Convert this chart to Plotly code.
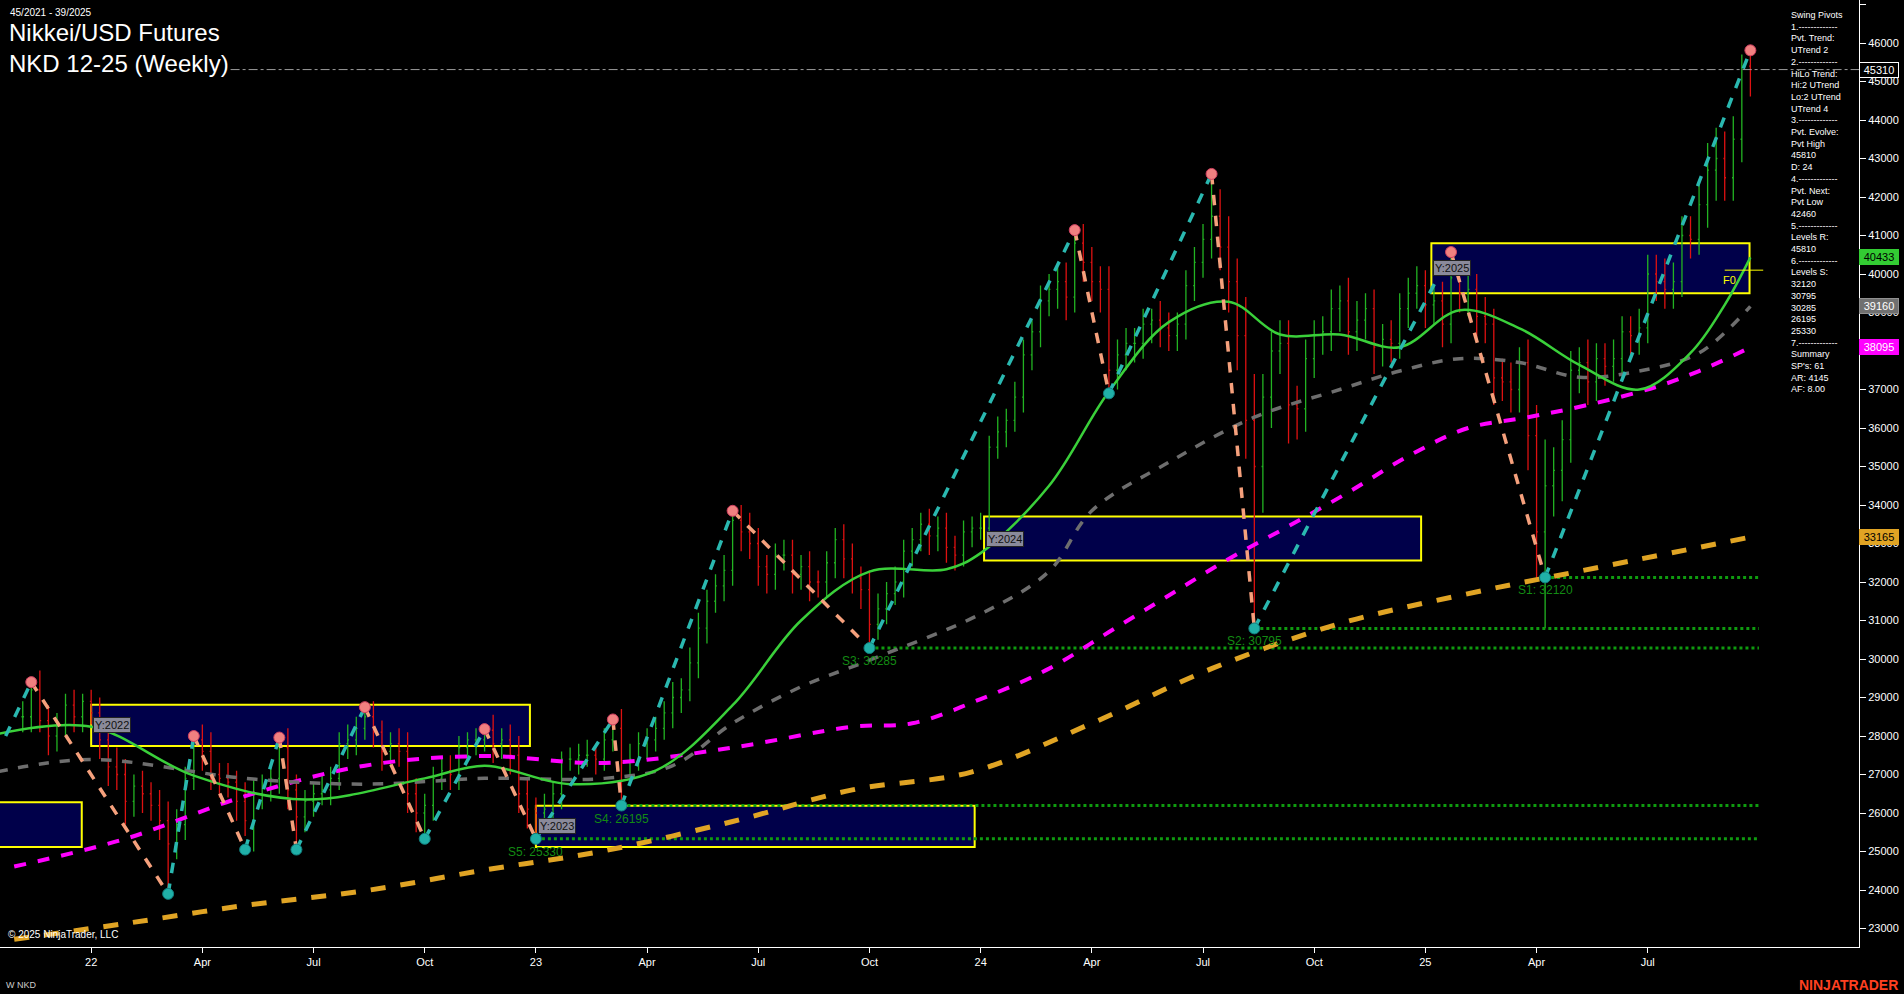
import pandas as pd
import plotly.graph_objects as go

BASE = pd.Timestamp("2021-11-08")

closes = [28500,29200,28400,28000,28300,28800,28500,28900,28600,27900,
27200,27000,26300,26700,26500,26200,25800,25200,25700,26900,
27900,27600,27000,26900,26800,26300,25800,26500,26700,26900,
27700,26600,25900,26300,26500,26600,26900,27800,27900,28200,
28500,28100,27600,27800,27600,26500,26000,26200,26900,27100,
27000,27700,27900,27900,28150,27800,27900,27500,26500,26100,
26000,26100,26500,27400,27400,27500,27500,27400,27900,28200,
27300,27400,27800,27900,28200,28600,29000,29200,29900,30800,
31500,31900,32300,33600,33300,33000,32400,32200,32700,32700,
32200,32400,32000,32000,32500,33100,32600,32100,31800,30900,
31300,31700,32000,32800,33100,33500,33200,33400,32900,32700,
33300,33400,33400,35500,35900,36200,36800,37900,38500,39300,
39600,39800,39400,40800,40300,39800,39600,37500,37900,38200,
38200,38700,38800,38600,38400,38700,39700,40300,40900,41500,
40700,39800,38400,36200,35000,36800,38000,38200,36600,36500,
37800,38400,38500,39100,39300,38500,38800,39100,38100,38300,
38200,39100,39500,39700,39200,39300,38700,39900,39500,39600,
38900,38700,37300,37200,37000,37700,35800,33300,34500,34900,
35700,37500,37700,37200,37800,37600,37800,38500,38400,38600,
40000,39800,39600,39800,41000,40900,41800,42700,43000,42500,
43500,45400,45310]

up_wick = [4,2,5,4,3,3,4,2,3,4, 3,5,4,3,4,3,4,5,4,3, 1,4,5,3,4,3,5,4,3,4,
3,5,4,3,3,4,3,3,4,3, 3,4,3,3,4,5,4,3,3,3, 4,3,2,3,0,4,3,4,5,4,
3,4,3,2,3,3,4,3,3,2, 5,4,3,3,3,3,4,3,4,4, 3,3,4,3,4,5,4,3,3,4,
4,3,4,3,3,3,4,4,3,5, 4,3,4,3,3,3,4,3,4,3, 3,3,4,3,4,3,4,4,3,4,
4,4,5,3,5,4,4,6,4,4, 4,4,3,5,4,3,4,4,4,11, 7,8,6,10,12,6,5,6,6,5,
5,4,4,5,4,6,5,4,5,4, 5,4,4,5,4,4,5,7,4,4, 4,5,4,5,5,4,6,8,12,6,
5,5,4,6,4,4,5,4,4,5, 5,5,6,5,5,5,6,7,8,7, 6,3,4]

dn_wick = [4,4,3,5,4,3,4,4,3,5, 5,4,6,4,5,4,5,13,4,4, 3,5,4,5,4,5,4,8,4,4,
4,5,8,4,4,3,4,3,4,4, 3,4,5,4,4,5,5,7,4,3, 4,4,3,4,3,5,4,5,5,5,
7,5,4,4,3,4,3,4,3,3, 11,5,3,4,3,3,4,4,3,4, 4,3,4,4,5,4,5,5,4,4,
5,4,5,4,4,4,5,4,5,6, 4,4,3,4,4,3,5,4,4,4, 3,4,3,4,3,4,3,4,4,4,
4,5,6,4,5,5,6,6,5,4, 5,4,5,5,4,4,4,4,4,5, 6,8,9,10,42,12,8,6,10,8,
6,5,5,5,6,6,5,5,7,5, 5,4,5,4,6,5,6,5,5,6, 6,5,7,5,6,6,9,12,25,8,
8,6,6,6,5,5,4,5,5,5, 4,5,5,5,4,5,4,6,8,6, 6,6,7]

# swing pivots (week index, price)
pivot_idx = [-2, 1, 17, 20, 26, 30, 32, 40, 47, 54, 60, 69, 70, 83, 99, 123, 127, 139, 144, 167, 178, 202]
pivot_val = [28000, 29400, 23900, 28000, 25050, 27960, 25050, 28750, 25330, 28180, 25330, 28430, 26195,
             33850, 30285, 41140, 36900, 42600, 30795, 40570, 32120, 45810]

# moving averages (week index, value)
ma_fast_idx = [-3, 8, 20, 33, 47, 54, 64, 74, 83, 91, 99, 108, 112, 120, 127, 134, 141, 147, 154, 161, 168, 175, 182, 189, 195, 199, 202]
ma_fast_val = [28050, 28240, 26970, 26350, 26900, 27230, 26750, 27100, 28800, 31000, 32270, 32330, 32750, 34500,
               36950, 38750, 39280, 38430, 38430, 38100, 39060, 38590, 37640, 37000, 37950, 39200, 40433]
ma_mid_idx = [-3, 8, 26, 40, 54, 68, 76, 83, 91, 99, 112, 120, 125, 134, 144, 154, 161, 168, 175, 182, 189, 196, 202]
ma_mid_val = [27070, 27390, 26900, 26750, 26900, 26900, 27230, 28330, 29280, 29970, 31170, 32280, 33850, 35110,
              36280, 37000, 37480, 37800, 37700, 37320, 37480, 37950, 39160]
ma_slow_idx = [-1, 12, 26, 40, 54, 68, 83, 97, 104, 112, 120, 127, 134, 141, 148, 155, 162, 169, 176, 183, 191, 196, 202]
ma_slow_val = [24610, 25330, 26440, 27230, 27480, 27300, 27700, 28240, 28330, 28960, 29750, 30700, 31650, 32600,
               33450, 34330, 35270, 36000, 36280, 36600, 37070, 37480, 38095]
ma_long_idx = [-1, 12, 26, 40, 54, 68, 83, 97, 111, 125, 139, 154, 168, 182, 202]
ma_long_val = [22720, 23130, 23600, 23980, 24520, 25020, 25780, 26600, 27070, 28330, 29750, 30920, 31650, 32280, 33165]

# yearly range boxes: label, start week, end week, high, low
box_labels = ["", "Y:2022", "Y:2023", "Y:2024", "Y:2025"]
box_start = [-5, 8, 60, 112.4, 164.7]
box_end = [6.9, 59.3, 111.3, 163.5, 201.9]
box_high = [26280, 28810, 26190, 33700, 40800]
box_low = [25120, 27740, 25120, 32560, 39500]

# support levels
sup_names = ["S1", "S2", "S3", "S4", "S5"]
sup_vals = [32120, 30795, 30285, 26195, 25330]
sup_start = [178, 144, 99, 70, 60]

panel_lines = ["Swing Pivots", "1.-------------", "Pvt. Trend:", "UTrend 2", "2.-------------",
               "HiLo Trend:", "Hi:2 UTrend", "Lo:2 UTrend", "UTrend 4", "3.-------------",
               "Pvt. Evolve:", "Pvt High", "45810", "D: 24", "4.-------------", "Pvt. Next:",
               "Pvt Low", "42460", "5.-------------", "Levels R:", "45810", "6.-------------",
               "Levels S:", "32120", "30795", "30285", "26195", "25330", "7.-------------",
               "Summary", "SP's: 61", "AR: 4145", "AF: 8.00"]

tick_dates = ["2022-01-03", "2022-04-04", "2022-07-04", "2022-10-03", "2023-01-02", "2023-04-03",
              "2023-07-03", "2023-10-02", "2024-01-01", "2024-04-01", "2024-07-01", "2024-09-30",
              "2024-12-30", "2025-03-31", "2025-06-30"]
tick_text = ["22", "Apr", "Jul", "Oct", "23", "Apr", "Jul", "Oct", "24", "Apr", "Jul", "Oct", "25", "Apr", "Jul"]


def wk(i):
    return BASE + pd.Timedelta(days=7 * i)


dates = [wk(i) for i in range(len(closes))]
opens = [closes[0]] + closes[:-1]
highs = [max(o, c) + u * 100 for o, c, u in zip(opens, closes, up_wick)]
lows = [min(o, c) - d * 100 for o, c, d in zip(opens, closes, dn_wick)]

FONT = "Liberation Sans, Arial, sans-serif"
fig = go.Figure()

# boxes
for lab, s, e, h, l in zip(box_labels, box_start, box_end, box_high, box_low):
    fig.add_shape(type="rect", x0=wk(s), x1=wk(e), y0=l, y1=h, fillcolor="#00004a",
                  line=dict(color="#ffff00", width=2), layer="below")
    if lab:
        fig.add_annotation(x=wk(s), y=(h + l) / 2, text=lab, showarrow=False, xanchor="left",
                           xshift=2, bgcolor="#8a8a9a", bordercolor="#222222",
                           font=dict(color="#111111", size=11, family=FONT), borderpad=1)

# support dotted lines
for n, v, s in zip(sup_names, sup_vals, sup_start):
    fig.add_trace(go.Scatter(x=[wk(s), wk(203)], y=[v, v], mode="lines",
                             line=dict(color="#0f9a0f", width=3, dash="dot"), hoverinfo="skip",
                             showlegend=False))
    fig.add_annotation(x=wk(s), y=v, text=f"{n}: {v}", showarrow=False, xanchor="center",
                       yanchor="top", yshift=-4, font=dict(color="#138a13", size=12, family=FONT))

# moving averages
fig.add_trace(go.Scatter(x=[wk(i) for i in ma_long_idx], y=ma_long_val, mode="lines",
                         line=dict(color="#e0a424", width=5, dash="dash", shape="spline"), showlegend=False))
fig.add_trace(go.Scatter(x=[wk(i) for i in ma_slow_idx], y=ma_slow_val, mode="lines",
                         line=dict(color="#ff00ff", width=4, dash="dash", shape="spline"), showlegend=False))
fig.add_trace(go.Scatter(x=[wk(i) for i in ma_mid_idx], y=ma_mid_val, mode="lines",
                         line=dict(color="#6e6e6e", width=3.5, dash="dash", shape="spline"), showlegend=False))

# price bars
fig.add_trace(go.Ohlc(x=dates, open=opens, high=highs, low=lows, close=closes,
                      increasing=dict(line=dict(color="#22b322", width=1.3)),
                      decreasing=dict(line=dict(color="#dd1111", width=1.3)),
                      tickwidth=0.15, showlegend=False))

fig.add_trace(go.Scatter(x=[wk(i) for i in ma_fast_idx], y=ma_fast_val, mode="lines",
                         line=dict(color="#3ad03a", width=2.5, shape="spline"), showlegend=False))

# zigzag legs
ux, uy, dx, dy = [], [], [], []
for k in range(len(pivot_idx) - 1):
    a, b = pivot_val[k], pivot_val[k + 1]
    seg_x = [wk(pivot_idx[k]), wk(pivot_idx[k + 1]), None]
    seg_y = [a, b, None]
    if b > a:
        ux += seg_x; uy += seg_y
    else:
        dx += seg_x; dy += seg_y
fig.add_trace(go.Scatter(x=ux, y=uy, mode="lines", line=dict(color="#2ab8b0", width=3.5, dash="dash"),
                         showlegend=False))
fig.add_trace(go.Scatter(x=dx, y=dy, mode="lines", line=dict(color="#f5a07c", width=3.5, dash="dash"),
                         showlegend=False))
hx = [wk(i) for i, v, p in zip(pivot_idx[1:], pivot_val[1:], pivot_val[:-1]) if v > p]
hy = [v for v, p in zip(pivot_val[1:], pivot_val[:-1]) if v > p]
lx = [wk(i) for i, v, p in zip(pivot_idx[1:], pivot_val[1:], pivot_val[:-1]) if v < p]
ly = [v for v, p in zip(pivot_val[1:], pivot_val[:-1]) if v < p]
fig.add_trace(go.Scatter(x=hx, y=hy, mode="markers", marker=dict(color="#f08080", size=11,
                         line=dict(color="#d04060", width=1)), showlegend=False))
fig.add_trace(go.Scatter(x=lx, y=ly, mode="markers", marker=dict(color="#20b0a8", size=11,
                         line=dict(color="#108080", width=1)), showlegend=False))

# last price line
fig.add_shape(type="line", x0=wk(24.3), x1=wk(214.7), y0=closes[-1], y1=closes[-1],
              line=dict(color="#9a9a9a", width=1, dash="dashdot"))
# F0 marker
fig.add_shape(type="line", x0=wk(199), x1=wk(203.5), y0=40100, y1=40100, line=dict(color="#ffff00", width=1))
fig.add_annotation(x=wk(199.5), y=40050, text="F0", showarrow=False, yanchor="top",
                   font=dict(color="#ffff00", size=11, family=FONT))

# right tags
tags = [(45310, "#000000", "#ffffff", "#ffffff"), (40433, "#33cc33", "#000000", "#33cc33"),
        (39160, "#707070", "#ffffff", "#909090"), (38095, "#ff00ff", "#ffffff", "#ff00ff"),
        (33165, "#e0a424", "#000000", "#e0a424")]
for v, bg, fc, bc in tags:
    fig.add_annotation(x=1, xref="paper", y=v, text=str(v), showarrow=False, xanchor="left", xshift=0,
                       bgcolor=bg, bordercolor=bc, borderwidth=1, borderpad=1, width=36,
                       font=dict(color=fc, size=11, family=FONT))

# texts
fig.add_annotation(x=0.0045, xref="paper", y=0.995, yref="paper", text="45/2021 - 39/2025", showarrow=False,
                   xanchor="left", yanchor="top", font=dict(color="#ffffff", size=10, family=FONT))
fig.add_annotation(x=0.004, xref="paper", y=0.982, yref="paper",
                   text="Nikkei/USD Futures<br>NKD 12-25 (Weekly)", showarrow=False, align="left",
                   xanchor="left", yanchor="top", font=dict(color="#ffffff", size=24, family=FONT))
fig.add_annotation(x=0.003, xref="paper", y=0.005, yref="paper", text="© 2025 NinjaTrader, LLC",
                   showarrow=False, xanchor="left", yanchor="bottom",
                   font=dict(color="#ffffff", size=10, family=FONT))
fig.add_annotation(x=0.9625, xref="paper", y=0.992, yref="paper", text="<br>".join(panel_lines),
                   showarrow=False, xanchor="left", yanchor="top", align="left",
                   font=dict(color="#ffffff", size=9, family=FONT))
fig.add_annotation(x=0.002, xref="paper", y=-0.04, yref="paper", text="W NKD", showarrow=False,
                   xanchor="left", yanchor="middle", font=dict(color="#cccccc", size=9, family=FONT))
fig.add_annotation(x=1.022, xref="paper", y=-0.04, yref="paper", text="<b>NINJATRADER</b>", showarrow=False,
                   xanchor="right", yanchor="middle", font=dict(color="#ff4020", size=14, family=FONT))

fig.update_layout(
    width=1904, height=994, paper_bgcolor="#000000", plot_bgcolor="#000000",
    margin=dict(l=0, r=45, t=0, b=47), showlegend=False,
    xaxis=dict(range=[wk(-2.66), wk(214.7)], tickvals=[pd.Timestamp(d) for d in tick_dates],
               ticktext=tick_text, showgrid=False, zeroline=False, showline=True, linecolor="#ffffff",
               ticks="outside", tickcolor="#ffffff", ticklen=5, rangeslider=dict(visible=False),
               tickfont=dict(color="#ffffff", size=11, family=FONT)),
    yaxis=dict(range=[22520, 47117], side="right", dtick=1000, tick0=23000, showgrid=False,
               tickformat="d", zeroline=False, showline=True, linecolor="#ffffff", ticks="outside",
               tickcolor="#ffffff", ticklen=6, tickfont=dict(color="#ffffff", size=11, family=FONT)),
)
fig.write_html("out.html", config={"displayModeBar": False},
               post_script="document.body.style.margin='0';document.body.style.overflow='hidden';")
